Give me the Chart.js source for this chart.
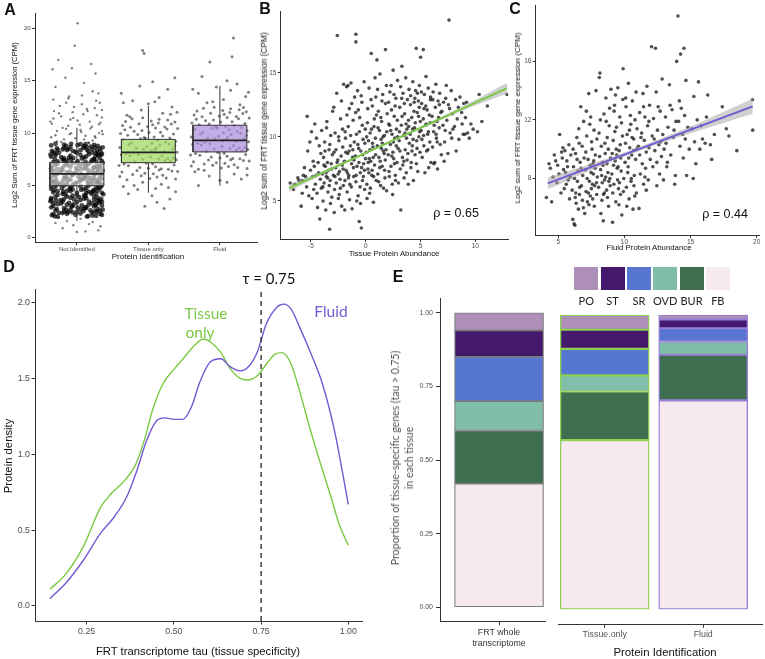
<!DOCTYPE html>
<html>
<head>
<meta charset="utf-8">
<script src="https://cdn.jsdelivr.net/npm/chart.js@4.4.0/dist/chart.umd.min.js"></script>
<style>
body { margin: 0; background: #fff; }
#fig { position: relative; width: 765px; height: 659px; overflow: hidden; font-family: 'Liberation Sans', Arial, sans-serif; }
canvas { position: absolute; left: 0; top: 0; }
.t { position: absolute; white-space: nowrap; line-height: 1; transform: translate(-50%, -50%); color: #111; }
.r { transform: translate(-50%, -50%) rotate(-90deg); }
.lt { font-family: Lato, 'Open Sans', sans-serif; }
.key { position: absolute; top: 267px; width: 24px; height: 23px; }
</style>
</head>
<body>
<div id="fig">
  <canvas id="cA" width="765" height="659"></canvas>
  <canvas id="cB" width="765" height="659"></canvas>
  <canvas id="cC" width="765" height="659"></canvas>
  <canvas id="cD" width="765" height="659"></canvas>
  <canvas id="cE1" width="765" height="659"></canvas>
  <canvas id="cE2" width="765" height="659"></canvas>

  <div class="t" style="left:10px;top:10px;font-weight:bold;font-size:16px">A</div>
  <div class="t" style="left:265px;top:9px;font-weight:bold;font-size:16px">B</div>
  <div class="t" style="left:515px;top:9px;font-weight:bold;font-size:16px">C</div>
  <div class="t" style="left:9px;top:267px;font-weight:bold;font-size:16px">D</div>
  <div class="t" style="left:398px;top:277px;font-weight:bold;font-size:16px">E</div>

  <div class="t r" style="left:15px;top:125px;font-size:7.7px">Log2 Sum of FRT tissue gene expression (CPM)</div>
  <div class="t" style="left:148px;top:257px;font-size:8px">Protein Identification</div>

  <div class="t r" style="left:264px;top:121px;font-size:8.3px">Log2 sum of FRT tissue gene expression (CPM)</div>
  <div class="t" style="left:394px;top:254px;font-size:7.8px">Tissue Protein Abundance</div>
  <div class="t" style="left:456px;top:213px;font-size:12.5px">ρ = 0.65</div>

  <div class="t r" style="left:518px;top:118px;font-size:8px">Log2 sum of FRT tissue gene expression (CPM)</div>
  <div class="t" style="left:649px;top:248px;font-size:7.8px">Fluid Protein Abundance</div>
  <div class="t" style="left:725px;top:214px;font-size:12.5px">ρ = 0.44</div>

  <div class="t r" style="left:9px;top:456px;font-size:11.3px">Protein density</div>
  <div class="t" style="left:198px;top:652px;font-size:11.3px">FRT transcriptome tau (tissue specificity)</div>
  <div class="t lt" style="left:269px;top:278px;font-size:15px">τ = 0.75</div>
  <div class="t lt" style="left:206px;top:314px;font-size:15.5px;color:#7ac943">Tissue</div>
  <div class="t lt" style="left:200px;top:333px;font-size:15.5px;color:#7ac943">only</div>
  <div class="t lt" style="left:331px;top:312px;font-size:15.5px;color:#7657d3">Fluid</div>

  <div class="t r lt" style="left:402px;top:458px;font-size:10.5px;line-height:14px;text-align:center;color:#555">Proportion of tissue-specific genes (tau &gt; 0.75)<br>in each tissue</div>
  <div class="t" style="left:665px;top:653px;font-size:11.4px">Protein Identification</div>
  <div id="legend"></div>
</div>

<script>
// ---- panel A: jittered points [offset from category, log2 expression] ----
const notIdCore = [
  [-0.31,2.05],[0.05,2.31],[0.22,2.12],[-0.12,2.44],[0.33,2.27],[-0.25,2.38],[0.14,2.02],[-0.02,2.19],[0.28,2.48],[-0.35,2.15],
  [0.09,2.55],[-0.18,2.83],[0.36,2.67],[-0.08,2.96],[0.19,2.61],[-0.28,2.74],[0.01,2.88],[0.25,2.52],[-0.15,2.69],[0.12,2.92],
  [-0.33,3.04],[0.31,3.36],[-0.05,3.18],[0.17,3.45],[-0.22,3.27],[0.07,3.09],[0.35,3.41],[-0.11,3.33],[0.26,3.13],[-0.37,3.48],
  [-0.29,3.55],[0.03,3.87],[0.24,3.62],[-0.14,3.93],[0.34,3.71],[-0.23,3.58],[0.12,3.99],[-0.04,3.66],[0.29,3.82],[-0.36,3.77],
  [0.1,4.04],[-0.19,4.38],[0.37,4.15],[-0.09,4.46],[0.2,4.22],[-0.27,4.09],[0.0,4.31],[0.23,4.49],[-0.16,4.12],[0.13,4.27],
  [-0.32,4.53],[0.3,4.86],[-0.06,4.61],[0.16,4.97],[-0.21,4.72],[0.06,4.58],[0.34,4.91],[-0.1,4.67],[0.27,4.79],[-0.36,4.94],
  [-0.3,5.06],[0.04,5.38],[0.21,5.14],[-0.13,5.47],[0.32,5.25],[-0.24,5.11],[0.15,5.42],[-0.03,5.19],[0.29,5.33],[-0.34,5.29],
  [0.08,5.57],[-0.17,5.89],[0.35,5.64],[-0.07,5.96],[0.18,5.71],[-0.29,5.52],[0.02,5.83],[0.24,5.61],[-0.14,5.77],[0.11,5.93],
  [-0.32,6.03],[0.3,6.37],[-0.04,6.16],[0.16,6.44],[-0.23,6.26],[0.06,6.08],[0.36,6.41],[-0.1,6.31],[0.25,6.12],[-0.36,6.48],
  [-0.28,6.56],[0.04,6.88],[0.23,6.63],[-0.13,6.94],[0.33,6.72],[-0.22,6.59],[0.13,6.97],[-0.01,6.67],[0.28,6.83],[-0.35,6.78],
  [0.09,7.04],[-0.18,7.39],[0.36,7.16],[-0.08,7.45],[0.2,7.23],[-0.27,7.08],[0.01,7.32],[0.24,7.48],[-0.15,7.13],[0.12,7.27],
  [-0.31,7.54],[0.3,7.87],[-0.05,7.62],[0.17,7.98],[-0.22,7.71],[0.07,7.57],[0.34,7.92],[-0.11,7.66],[0.26,7.79],[-0.37,7.95],
  [-0.3,8.05],[0.05,8.36],[0.22,8.13],[-0.12,8.47],[0.33,8.26],[-0.25,8.11],[0.14,8.42],[-0.02,8.19],[0.28,8.33],[-0.35,8.29],
  [0.09,8.58],[-0.18,8.9],[0.36,8.64],[-0.08,8.97],[0.19,8.71],[-0.28,8.53],[0.01,8.84],[0.25,8.62],[-0.15,8.78],[0.12,8.94]
];
const notIdCore2 = [
  [0.27,2.1],[-0.06,2.42],[-0.33,2.26],[0.16,2.07],[-0.2,2.35],[0.35,2.18],[0.0,2.47],[-0.14,2.29],[0.21,2.4],[-0.27,2.01],
  [0.1,2.78],[0.32,2.58],[-0.09,2.64],[-0.36,2.9],[0.05,2.72],[0.24,2.99],[-0.18,2.53],[0.13,2.84],[-0.3,2.6],[0.29,2.77],
  [0.27,3.22],[-0.06,3.01],[-0.33,3.3],[0.16,3.12],[-0.2,3.46],[0.35,3.07],[0.0,3.39],[-0.14,3.15],[0.21,3.28],[-0.27,3.2],
  [0.1,3.73],[0.32,3.52],[-0.09,3.81],[-0.36,3.63],[0.05,3.6],[0.24,3.94],[-0.18,3.69],[0.13,3.78],[-0.3,3.89],[0.29,3.57],
  [0.27,4.2],[-0.06,4.02],[-0.33,4.33],[0.16,4.41],[-0.2,4.18],[0.35,4.29],[0.0,4.07],[-0.14,4.48],[0.21,4.36],[-0.27,4.44],
  [0.1,4.62],[0.32,4.7],[-0.09,4.83],[-0.36,4.66],[0.05,4.9],[0.24,4.55],[-0.18,4.98],[0.13,4.74],[-0.3,4.88],[0.29,4.51],
  [0.27,5.22],[-0.06,5.03],[-0.33,5.4],[0.16,5.17],[-0.2,5.36],[0.35,5.08],[0.0,5.29],[-0.14,5.13],[0.21,5.46],[-0.27,5.21],
  [0.1,5.69],[0.32,5.8],[-0.09,5.54],[-0.36,5.74],[0.05,5.62],[0.24,5.97],[-0.18,5.66],[0.13,5.86],[-0.3,5.91],[0.29,5.51],
  [0.27,6.21],[-0.06,6.04],[-0.33,6.33],[0.16,6.15],[-0.2,6.46],[0.35,6.1],[0.0,6.39],[-0.14,6.23],[0.21,6.28],[-0.27,6.14],
  [0.1,6.6],[0.32,6.91],[-0.09,6.77],[-0.36,6.64],[0.05,6.53],[0.24,6.74],[-0.18,6.86],[0.13,6.69],[-0.3,6.97],[0.29,6.58],
  [0.27,7.26],[-0.06,7.11],[-0.33,7.22],[0.16,7.03],[-0.2,7.47],[0.35,7.31],[0.0,7.17],[-0.14,7.36],[0.21,7.42],[-0.27,7.29],
  [0.1,7.68],[0.32,7.59],[-0.09,7.84],[-0.36,7.73],[0.05,7.91],[0.24,7.52],[-0.18,7.61],[0.13,7.77],[-0.3,7.88],[0.29,7.96],
  [0.27,8.08],[-0.06,8.3],[-0.33,8.17],[0.16,8.24],[-0.2,8.44],[0.35,8.02],[0.0,8.12],[-0.14,8.38],[0.21,8.46],[-0.27,8.4],
  [0.1,8.74],[0.32,8.53],[-0.09,8.66],[-0.36,8.82],[0.05,8.95],[0.24,8.88],[-0.18,8.6],[0.13,8.69],[-0.3,8.98],[0.29,8.77]
];
const notIdSparse = [
  [0.12,0.6],[-0.2,0.9],[0.3,0.7],[-0.05,1.2],[0.22,1.5],[-0.3,1.4],[0.05,1.8],[-0.14,1.6],[0.33,1.1],[-0.25,1.9],[0.17,1.3],[0.0,0.55],
  [-0.28,9.2],[0.1,9.4],[0.25,9.7],[-0.1,9.9],[0.35,10.2],[-0.2,10.5],[0.04,10.8],[0.18,11.1],[-0.33,11.4],[0.28,11.7],[-0.06,12.0],
  [0.14,12.3],[-0.24,12.6],[0.32,12.9],[-0.12,13.3],[0.07,13.6],[0.22,14.0],[-0.3,14.4],[0.1,14.8],[-0.16,15.3],[0.26,15.7],[-0.07,16.2],
  [0.2,16.6],[-0.26,17.0],[-0.03,18.35],[0.01,20.5],[-0.34,16.1],[0.3,13.8],[-0.02,9.5],[0.16,9.1],[-0.36,9.6],[0.06,10.1],[-0.15,10.4],
  [0.31,10.0],[-0.25,11.9],[0.21,10.6],[-0.09,11.3],[0.35,11.5],[-0.32,12.1],
  [0.22,9.3],[-0.3,9.8],[0.05,10.3],[-0.12,10.7],[0.33,11.0],[-0.22,11.6],[0.15,12.1],[-0.04,12.5],[0.27,13.1],[-0.35,10.9],
  [0.09,11.8],[-0.18,9.4],[0.36,9.9],[-0.08,10.0],[0.19,10.45],[-0.28,10.2],[0.01,11.2],[0.25,12.4],[-0.15,12.9],[0.12,9.75],
  [-0.33,13.2],[0.31,10.85],[-0.05,11.45],[0.17,9.05],[-0.22,9.15],[0.07,12.75],[0.35,12.2],[-0.11,13.5],[0.26,9.55],[-0.37,11.1]
];
const tissueOnlyPts = [
  [-0.3,5.55],[0.12,5.8],[0.38,5.62],[-0.1,5.93],[0.25,5.7],[-0.4,5.85],[0.02,5.66],[0.2,5.98],
  [-0.22,6.05],[0.33,6.38],[-0.05,6.17],[0.15,6.46],[-0.37,6.27],[0.07,6.11],[0.41,6.33],[-0.16,6.42],
  [0.28,6.55],[-0.28,6.87],[0.0,6.63],[0.36,6.95],[-0.12,6.71],[0.18,6.58],[-0.41,6.9],[0.1,6.79],
  [-0.34,7.04],[0.23,7.37],[-0.03,7.15],[0.39,7.44],[-0.19,7.26],[0.06,7.08],[0.31,7.32],[-0.08,7.49],
  [0.14,7.53],[-0.26,7.86],[0.35,7.62],[-0.14,7.97],[0.03,7.71],[0.27,7.58],[-0.38,7.92],[0.19,7.81],
  [-0.31,8.04],[0.09,8.38],[0.4,8.16],[-0.07,8.45],[0.22,8.23],[-0.21,8.09],[0.04,8.31],[0.34,8.48],
  [-0.17,8.54],[0.16,8.87],[-0.4,8.62],[0.29,8.95],[-0.02,8.7],[0.11,8.57],[-0.27,8.92],[0.37,8.78],
  [0.05,9.04],[-0.35,9.37],[0.24,9.15],[-0.11,9.46],[0.38,9.22],[-0.24,9.08],[0.13,9.31],[-0.04,9.49],
  [0.3,9.53],[-0.15,9.86],[0.08,9.63],[-0.39,9.97],[0.2,9.71],[-0.06,9.58],[0.35,9.91],[-0.29,9.79],
  [0.01,10.05],[0.26,10.38],[-0.2,10.17],[0.41,10.45],[-0.09,10.24],[0.17,10.09],[-0.33,10.33],[0.1,10.48],
  [-0.25,10.55],[0.32,10.88],[-0.01,10.64],[0.14,10.96],[-0.36,10.72],[0.23,10.58],[-0.13,10.9],[0.06,10.8],
  [0.37,11.05],[-0.23,11.38],[0.04,11.16],[-0.08,11.46],[0.27,11.24],[-0.32,11.1],[0.15,11.33],
  [-0.05,3.0],[0.22,2.8],[0.12,3.4],[0.3,3.7],[-0.28,4.2],[0.05,4.0],[-0.15,4.6],[0.38,4.4],[-0.35,4.9],[0.18,5.1],
  [-0.08,5.3],[0.28,4.8],[-0.2,5.0],[0.1,4.7],[-0.3,11.7],[0.2,11.9],[-0.1,12.2],[0.33,12.5],[0.0,12.8],[-0.22,13.1],
  [0.15,13.4],[-0.38,13.8],[0.27,14.2],[-0.12,14.5],[0.06,14.9],[0.37,15.3],[-0.08,17.9],[-0.06,17.6],[-0.26,11.55],
  [0.4,12.0],[-0.35,12.9],[0.09,13.0],[0.31,11.8]
];
const fluidPts = [
  [-0.3,6.55],[0.12,6.8],[0.38,6.62],[-0.1,6.93],[0.25,6.7],[-0.4,6.85],[0.02,6.66],[0.2,6.98],
  [-0.22,7.05],[0.33,7.38],[-0.05,7.17],[0.15,7.46],[-0.37,7.27],[0.07,7.11],[0.41,7.33],[-0.16,7.42],
  [0.28,7.55],[-0.28,7.87],[0.0,7.63],[0.36,7.95],[-0.12,7.71],[0.18,7.58],[-0.41,7.9],[0.1,7.79],
  [-0.34,8.04],[0.23,8.37],[-0.03,8.15],[0.39,8.44],[-0.19,8.26],[0.06,8.08],[0.31,8.32],[-0.08,8.49],
  [0.14,8.53],[-0.26,8.86],[0.35,8.62],[-0.14,8.97],[0.03,8.71],[0.27,8.58],[-0.38,8.92],[0.19,8.81],
  [-0.31,9.04],[0.09,9.38],[0.4,9.16],[-0.07,9.45],[0.22,9.23],[-0.21,9.09],[0.04,9.31],[0.34,9.48],
  [-0.17,9.54],[0.16,9.87],[-0.4,9.62],[0.29,9.95],[-0.02,9.7],[0.11,9.57],[-0.27,9.92],[0.37,9.78],
  [0.05,10.04],[-0.35,10.37],[0.24,10.15],[-0.11,10.46],[0.38,10.22],[-0.24,10.08],[0.13,10.31],[-0.04,10.49],
  [0.3,10.53],[-0.15,10.86],[0.08,10.63],[-0.39,10.97],[0.2,10.71],[-0.06,10.58],[0.35,10.91],[-0.29,10.79],
  [0.01,11.05],[0.26,11.38],[-0.2,11.17],[0.41,11.45],[-0.09,11.24],[0.17,11.09],[-0.33,11.33],[0.1,11.48],
  [-0.25,11.55],[0.32,11.88],[-0.01,11.64],[0.14,11.96],[-0.36,11.72],[0.23,11.58],[-0.13,11.9],[0.06,11.8],
  [0.37,12.05],[-0.23,12.38],[0.04,12.16],[-0.08,12.46],[0.27,12.24],[-0.32,12.1],[0.15,12.33],[0.33,12.44],
  [-0.3,5.0],[0.1,5.3],[0.3,5.6],[-0.15,5.9],[0.2,6.1],[-0.35,6.3],[0.0,5.5],[0.38,6.0],[-0.22,6.45],
  [0.28,12.7],[-0.18,12.9],[0.05,13.2],[0.36,13.5],[-0.3,13.8],[0.15,14.1],[-0.05,14.4],[0.24,14.7],[-0.38,14.2],
  [0.4,13.9],[-0.1,13.0],[0.1,15.0],[-0.14,16.8],[0.17,17.3],[0.19,19.1],[-0.25,15.4]
];
const boxCats = ['Not Identified', 'Tissue only', 'Fluid'];
const boxLower = [1.6, 4.3, 4.97];
const boxQ1 = [4.97, 7.17, 8.2];
const boxMed = [6.1, 8.16, 9.3];
const boxQ3 = [7.2, 9.4, 10.75];
const boxUpper = [10.5, 12.6, 14.5];
const aTicksY = [0, 5, 10, 15, 20];

// ---- panel B: tissue protein abundance vs expression ----
const tissuePts = [
  [-6.9,6.4],[-6.5,6.3],[-6.2,6.8],[-6.6,5.9],[-6.1,6.6],
  [-5.9,4.6],[-5.8,6.6],[-5.6,7.6],[-5.4,6.1],[-5.3,8.9],[-5.2,5.4],[-5.7,7.0],[-5.1,9.6],[-5.5,6.9],[-5.05,7.4],[-5.35,11.6],[-5.8,5.6],
  [-4.9,5.2],[-4.8,8.1],[-4.6,6.3],[-4.5,9.9],[-4.4,4.5],[-4.3,7.2],[-4.2,3.6],[-4.1,8.7],[-4.05,6.0],[-4.95,10.4],[-4.7,7.7],[-4.45,5.6],
  [-4.25,9.3],[-4.15,6.7],[-4.85,6.9],[-4.35,8.0],[-4.65,11.0],[-4.55,7.0],[-4.75,5.9],[-4.02,10.5],
  [-3.95,7.1],[-3.9,5.0],[-3.85,8.4],[-3.8,6.4],[-3.75,9.6],[-3.7,7.7],[-3.65,4.3],[-3.6,6.9],[-3.55,11.2],[-3.5,8.0],[-3.45,5.7],[-3.4,7.4],
  [-3.35,9.0],[-3.3,2.8],[-3.25,6.6],[-3.2,10.1],[-3.15,7.9],[-3.1,5.3],[-3.05,8.6],[-3.02,12.0],[-3.92,6.1],[-3.62,7.2],[-3.33,6.2],
  [-3.12,7.5],[-3.72,8.9],[-3.48,6.8],[-3.22,4.8],[-3.82,7.8],[-3.58,10.7],[-3.28,9.4],
  [-2.95,7.0],[-2.9,8.8],[-2.85,5.9],[-2.8,10.3],[-2.75,7.6],[-2.7,6.4],[-2.65,13.4],[-2.6,17.9],[-2.55,8.2],[-2.5,5.2],[-2.45,9.7],
  [-2.4,7.3],[-2.35,6.7],[-2.3,11.4],[-2.25,8.5],[-2.2,4.6],[-2.15,7.8],[-2.1,9.2],[-2.05,6.2],[-2.02,14.1],[-2.92,12.3],[-2.72,9.0],
  [-2.52,7.1],[-2.32,6.0],[-2.12,10.6],[-2.82,6.9],[-2.62,8.0],[-2.42,5.5],[-2.22,12.8],[-2.07,7.5],[-2.88,4.1],[-2.48,10.0],
  [-1.95,8.1],[-1.9,6.6],[-1.85,9.9],[-1.8,7.4],[-1.75,13.9],[-1.7,5.7],[-1.65,8.7],[-1.6,10.8],[-1.55,7.0],[-1.5,12.2],[-1.45,6.3],
  [-1.4,9.3],[-1.35,14.2],[-1.3,7.9],[-1.25,4.4],[-1.2,8.4],[-1.15,11.3],[-1.1,6.9],[-1.05,9.6],[-1.02,13.1],[-1.92,4.3],[-1.72,11.7],
  [-1.52,8.9],[-1.32,6.1],[-1.12,7.6],[-1.88,10.4],[-1.68,7.2],[-1.48,5.1],[-1.28,12.6],[-1.08,8.2],[-1.82,8.8],[-1.58,6.8],[-1.38,10.1],
  [-1.18,9.0],[-0.9,18.0],[-0.9,17.4],[-1.62,14.0],
  [-0.95,8.5],[-0.9,6.5],[-0.85,10.2],[-0.8,7.7],[-0.75,13.6],[-0.7,5.4],[-0.65,9.1],[-0.6,3.4],[-0.55,11.5],[-0.5,7.2],[-0.45,8.9],
  [-0.4,2.9],[-0.35,12.7],[-0.3,6.6],[-0.25,9.8],[-0.2,7.9],[-0.15,14.3],[-0.1,5.9],[-0.05,10.6],[-0.02,8.3],[-0.92,11.9],[-0.72,9.4],
  [-0.52,6.1],[-0.32,10.9],[-0.12,7.4],[-0.88,7.0],[-0.68,12.1],[-0.48,4.8],[-0.28,8.6],[-0.08,9.5],[-0.82,5.0],[-0.62,8.0],[-0.42,13.2],
  [-0.22,6.9],[-0.58,10.4],[-0.38,7.6],
  [0.05,8.8],[0.1,6.3],[0.15,11.1],[0.2,7.5],[0.25,9.7],[0.3,13.8],[0.35,5.6],[0.4,10.3],[0.45,8.1],[0.5,16.5],[0.55,7.0],[0.6,12.4],
  [0.65,9.2],[0.7,4.9],[0.75,10.8],[0.8,7.8],[0.85,14.6],[0.9,8.6],[0.95,6.6],[0.98,11.7],[0.08,10.0],[0.28,7.2],[0.48,12.9],[0.68,8.4],
  [0.88,9.9],[0.12,5.2],[0.32,8.3],[0.52,10.6],[0.72,6.9],[0.92,13.1],[0.18,12.2],[0.38,9.0],[0.58,7.4],[0.78,11.4],[0.22,8.0],[0.62,9.5],[0.42,6.0],
  [1.05,9.3],[1.1,7.1],[1.15,12.0],[1.2,8.4],[1.25,10.5],[1.3,14.9],[1.35,6.2],[1.4,9.8],[1.45,11.2],[1.5,7.7],[1.55,13.3],[1.6,8.9],
  [1.8,16.8],[1.7,10.1],[1.75,6.8],[1.8,12.6],[1.85,9.0],[1.9,5.8],[1.95,11.8],[1.02,16.0],[1.12,10.7],[1.32,8.1],[1.52,9.5],[1.72,7.4],
  [1.92,10.4],[1.08,13.7],[1.28,7.6],[1.48,12.8],[1.68,8.7],[1.88,14.0],[1.18,6.5],[1.38,11.5],[1.58,10.0],[1.78,8.2],[1.42,9.1],[1.62,6.0],
  [2.05,8.6],[2.1,11.0],[2.15,6.9],[2.2,13.5],[2.25,9.4],[2.3,7.7],[2.35,12.1],[2.4,10.2],[2.45,5.5],[2.5,15.2],[2.55,8.3],[2.6,11.6],
  [2.65,9.9],[2.7,7.0],[2.75,13.0],[2.8,10.6],[2.85,8.0],[2.9,14.4],[2.95,9.1],[2.98,6.4],[2.08,12.7],[2.28,10.5],[2.48,8.8],[2.68,12.4],
  [2.88,11.3],[2.12,7.3],[2.32,14.0],[2.52,9.6],[2.72,6.6],[2.92,10.0],[2.18,10.9],[2.38,8.5],[2.58,13.3],[2.78,9.3],[2.42,6.3],[2.62,7.9],
  [3.05,9.7],[3.1,12.3],[3.15,7.5],[3.2,4.3],[3.25,10.9],[3.3,15.5],[3.35,8.4],[3.4,13.4],[3.45,10.1],[3.5,6.8],[3.55,11.8],[3.6,9.0],
  [3.65,14.6],[3.7,7.2],[3.75,10.6],[3.8,12.9],[3.85,8.7],[3.9,11.3],[3.95,13.7],[3.98,9.5],[3.08,10.4],[3.28,13.0],[3.48,8.1],[3.68,11.0],
  [3.88,6.3],[3.12,8.9],[3.32,11.6],[3.52,12.6],[3.72,9.9],[3.92,10.8],[3.18,13.9],[3.38,7.8],[3.58,10.3],[3.78,8.2],
  [4.05,10.2],[4.1,13.2],[4.15,8.0],[4.2,11.5],[4.25,9.3],[4.3,14.3],[4.35,6.6],[4.4,12.0],[4.45,10.7],[4.5,8.6],[4.55,13.6],[4.6,16.9],
  [4.65,9.7],[4.7,11.9],[4.75,7.3],[4.8,12.8],[4.85,10.0],[4.9,14.0],[4.95,8.8],[4.98,11.2],[4.08,12.5],[4.28,10.6],[4.48,13.0],[4.68,9.1],
  [4.88,12.3],[4.12,7.6],[4.32,9.8],[4.52,11.1],[4.72,13.4],[4.92,10.4],[4.22,8.9],[4.42,12.7],[4.62,7.9],[4.82,11.6],
  [5.05,10.5],[5.1,12.6],[5.15,8.4],[5.25,16.8],[5.25,11.4],[5.3,9.3],[5.35,13.3],[5.4,7.2],[5.45,10.9],[5.5,14.7],[5.55,8.9],[5.6,12.1],
  [5.65,10.2],[5.7,13.8],[5.75,7.6],[5.8,11.7],[5.85,9.6],[5.9,12.9],[5.95,8.0],[5.0,16.2],[5.08,13.5],[5.28,10.1],[5.48,12.4],[5.68,9.0],
  [5.88,11.1],[5.12,9.8],[5.32,12.2],[5.52,11.0],[5.72,10.4],[5.92,13.1],
  [6.05,11.6],[6.1,9.2],[6.15,13.5],[6.2,10.4],[6.3,8.0],[6.35,12.3],[6.4,14.1],[6.45,9.9],[6.5,11.2],[6.55,7.5],[6.6,12.8],[6.7,10.7],
  [6.75,13.4],[6.8,9.4],[6.85,11.9],[6.9,8.6],[6.95,12.0],[6.25,10.9],[6.65,11.5],[6.12,12.9],[6.42,10.2],[6.72,12.5],[6.22,7.9],[6.52,9.6],
  [7.05,10.9],[7.1,12.7],[7.2,9.6],[7.3,13.0],[7.4,11.3],[7.5,8.7],[7.6,19.1],[7.65,12.2],[7.7,10.3],[7.8,13.6],[7.85,9.9],[7.9,11.8],
  [7.25,10.5],[7.55,12.5],[7.95,10.6],[7.35,14.0],[7.15,8.1],
  [8.1,10.8],[8.2,12.9],[8.35,11.4],[8.5,9.8],[8.6,13.1],[8.75,11.9],[8.9,10.2],[8.45,12.3],[8.8,11.0],[8.25,8.9],[8.95,12.6],
  [9.1,11.5],[9.3,10.3],[9.45,9.9],[9.2,12.7],[9.6,11.0],[9.8,10.6],[9.05,10.2],
  [10.35,13.3],[10.6,11.2],[11.1,12.4],[12.9,13.3],[10.2,10.4]
];
const tissueFitX = [-7.0, 12.9];
const tissueFitY = [6.0, 13.8];
const tissueBandX = [-7, -3, 1, 5, 9, 12.9];
const tissueBandLo = [5.73, 7.45, 9.05, 10.6, 12.1, 13.38];
const tissueBandHi = [6.27, 7.69, 9.23, 10.8, 12.44, 14.22];
const bTicksX = [-5, 0, 5, 10];
const bTicksY = [5, 10, 15];

// ---- panel C: fluid protein abundance vs expression ----
const fluidPtsC = [
  [4.1,6.7],[4.5,6.4],[4.4,8.7],[4.7,9.6],[4.8,9.2],[4.6,8.1],[4.9,7.7],[4.3,9.0],[4.95,8.9],
  [5.1,11.0],[5.05,8.3],[5.2,7.0],[5.3,9.4],[5.4,8.6],[5.5,9.9],[5.6,7.6],[5.7,8.8],[5.8,10.3],[5.9,8.1],[5.25,9.8],[5.45,7.3],
  [5.65,9.2],[5.85,6.6],[5.35,10.1],[5.75,7.9],[5.55,8.4],[5.95,9.6],
  [6.05,7.2],[6.1,5.2],[6.2,4.9],[6.25,4.8],[6.15,8.8],[6.3,9.7],[6.35,6.3],[6.4,10.8],[6.45,7.8],[6.5,8.5],[6.55,11.4],[6.6,6.9],
  [6.65,9.1],[6.7,12.9],[6.75,7.5],[6.8,10.2],[6.85,8.2],[6.9,6.0],[6.95,9.4],[6.12,10.0],[6.32,7.0],[6.52,5.9],[6.72,8.7],[6.92,11.9],
  [6.22,8.0],[6.42,9.3],[6.62,7.4],[6.82,6.5],[6.28,6.7],[6.58,10.4],
  [7.0,5.6],[7.05,8.6],[7.1,7.1],[7.15,10.9],[7.2,6.4],[7.25,9.3],[7.3,13.8],[7.35,7.8],[7.4,8.9],[7.45,12.2],[7.5,7.3],[7.55,10.0],
  [7.6,6.6],[7.65,8.3],[7.7,11.3],[7.75,7.5],[7.8,9.6],[7.85,14.0],[7.9,6.9],[7.95,8.1],[7.08,9.8],[7.28,7.0],[7.48,8.4],[7.68,9.2],
  [7.88,7.7],[7.12,12.6],[7.32,6.2],[7.52,10.5],[7.72,6.1],[7.92,10.7],[7.18,8.0],[7.38,11.7],[7.58,7.6],[7.78,8.7],[7.42,6.8],[7.62,9.0],
  [8.05,7.4],[8.1,14.9],[8.15,15.2],[8.2,8.6],[8.25,10.2],[8.3,6.5],[8.35,9.1],[8.4,5.1],[8.45,12.4],[8.5,7.9],[8.55,9.7],[8.6,13.5],
  [8.65,7.2],[8.7,10.8],[8.75,8.4],[8.8,6.1],[8.85,11.6],[8.9,8.0],[8.95,9.4],[8.98,14.1],[8.08,11.1],[8.28,8.2],[8.48,7.0],[8.68,9.0],
  [8.88,12.8],[8.12,9.5],[8.32,7.7],[8.52,10.4],[8.72,6.7],[8.92,7.5],[8.18,12.0],[8.38,8.9],[8.58,8.1],[8.78,10.0],[8.42,6.9],[8.62,11.9],
  [8.22,5.6],[8.82,7.8],
  [9.05,8.3],[9.1,5.0],[9.15,10.6],[9.2,7.6],[9.25,13.0],[9.3,9.2],[9.35,6.4],[9.4,11.5],[9.45,8.7],[9.5,14.2],[9.55,7.3],[9.6,9.9],
  [9.65,12.2],[9.7,6.9],[9.75,8.5],[9.8,5.5],[9.85,10.9],[9.9,15.5],[9.95,8.0],[9.08,9.7],[9.28,11.2],[9.48,7.9],[9.68,10.3],[9.88,13.4],
  [9.12,7.0],[9.32,13.7],[9.52,8.8],[9.72,9.4],[9.92,7.1],[9.18,8.9],[9.38,10.0],[9.58,6.2],[9.78,11.8],[9.22,12.6],[9.62,7.7],[9.42,9.6],
  [10.05,9.1],[10.1,13.5],[10.15,7.4],[10.2,11.0],[10.25,8.4],[10.3,14.5],[10.35,6.6],[10.4,10.1],[10.45,12.3],[10.5,7.8],[10.55,9.6],
  [10.6,13.3],[10.65,5.9],[10.7,10.7],[10.75,8.2],[10.8,12.0],[10.85,9.3],[10.9,7.0],[10.95,11.4],[10.08,10.4],[10.28,8.8],[10.48,11.7],
  [10.68,9.9],[10.88,13.9],[10.12,12.9],[10.32,9.4],[10.52,8.0],[10.72,7.5],[10.92,10.0],[10.18,6.1],[10.38,11.3],[10.58,10.8],[10.78,6.8],
  [11.05,10.2],[11.1,5.95],[11.15,12.5],[11.2,8.3],[11.3,11.1],[11.35,9.0],[11.4,13.8],[11.45,7.6],[11.5,10.6],[11.55,12.2],[11.6,8.7],
  [11.65,9.8],[11.7,14.3],[11.75,11.6],[11.8,7.9],[11.85,10.1],[11.9,13.0],[11.95,9.3],[11.25,10.8],[11.45,12.9],[11.65,7.2],[11.85,11.9],
  [11.15,9.6],[11.55,8.1],
  [12.05,17.0],[12.35,16.9],[12.1,10.9],[12.15,8.8],[12.2,12.1],[12.3,9.9],[12.4,13.9],[12.45,7.5],[12.5,11.3],[12.6,10.3],[12.65,8.3],
  [12.7,12.6],[12.8,9.5],[12.85,14.8],[12.9,11.0],[12.95,7.9],[12.25,10.7],[12.55,12.9],[12.75,10.5],[12.45,9.1],
  [13.0,10.0],[13.1,12.2],[13.2,8.8],[13.3,11.5],[13.4,14.4],[13.5,9.6],[13.6,12.7],[13.7,10.8],[13.8,7.6],[13.9,11.9],[13.95,16.0],
  [13.15,10.4],[13.45,13.0],[13.75,11.3],[13.25,9.1],[13.85,8.2],
  [14.05,19.1],[14.25,16.5],[14.5,16.9],[14.1,11.9],[14.2,10.2],[14.3,12.8],[14.4,11.0],[14.45,9.4],[14.55,12.3],[14.6,10.7],[14.7,8.2],
  [14.8,11.5],[14.9,10.0],[14.15,13.3],[14.65,14.7],
  [15.1,11.4],[15.2,8.0],[15.3,10.5],[15.5,12.0],[15.6,14.6],[15.7,10.0],[15.8,11.6],[15.4,9.0],[15.9,10.7],[15.25,13.6],
  [16.1,10.4],[16.3,13.7],[16.5,10.3],[16.6,9.3],[16.8,11.0],[16.2,12.2],
  [17.4,12.9],[17.7,11.4],[17.9,10.9],[18.5,9.9],[19.7,11.3],[19.68,13.38]
];
const fluidFitX = [4.2, 19.7];
const fluidFitY = [7.66, 12.93];
const fluidBandX = [4.2, 8, 11, 14, 17, 19.7];
const fluidBandLo = [7.26, 8.75, 9.82, 10.79, 11.66, 12.43];
const fluidBandHi = [8.06, 9.15, 10.12, 11.19, 12.36, 13.45];
const cTicksX = [5, 10, 15, 20];
const cTicksY = [8, 12, 16];

// ---- panel D: protein density along tau ----
const tauTissue = [0.145, 0.19, 0.24, 0.29, 0.32, 0.36, 0.39, 0.415, 0.44, 0.47, 0.50, 0.53, 0.56, 0.585, 0.605, 0.635, 0.66, 0.69, 0.71, 0.74, 0.77, 0.79, 0.81, 0.835, 0.86, 0.89, 0.92, 0.95, 0.975, 1.0];
const densTissue = [0.11, 0.21, 0.39, 0.65, 0.74, 0.83, 0.93, 1.09, 1.30, 1.47, 1.56, 1.64, 1.72, 1.76, 1.74, 1.67, 1.57, 1.50, 1.49, 1.52, 1.61, 1.66, 1.67, 1.60, 1.42, 1.17, 0.94, 0.72, 0.53, 0.40];
const tauFluid = [0.145, 0.19, 0.24, 0.29, 0.33, 0.365, 0.395, 0.42, 0.45, 0.475, 0.50, 0.525, 0.55, 0.575, 0.605, 0.635, 0.66, 0.69, 0.715, 0.74, 0.765, 0.795, 0.815, 0.835, 0.86, 0.89, 0.925, 0.96, 1.0];
const densFluid = [0.05, 0.15, 0.30, 0.48, 0.59, 0.72, 0.90, 1.08, 1.22, 1.24, 1.23, 1.23, 1.31, 1.48, 1.61, 1.63, 1.58, 1.55, 1.58, 1.68, 1.86, 1.97, 1.99, 1.96, 1.84, 1.68, 1.47, 1.16, 0.67];
const tauCut = 0.75;
const dTicksX = [0.25, 0.5, 0.75, 1.0];
const dTicksY = [0, 0.5, 1.0, 1.5, 2.0];

// ---- panel E: share of tissue-specific genes ----
const tissueKeys = ['PO', 'ST', 'SR', 'OVD', 'BUR', 'FB'];
const wholeProp = [0.06, 0.09, 0.15, 0.10, 0.18, 0.42];
const tissueOnlyProp = [0.05, 0.065, 0.09, 0.055, 0.165, 0.575];
const fluidProp = [0.015, 0.03, 0.045, 0.045, 0.155, 0.71];
const eGroups = ['Tissue.only', 'Fluid'];
const eTicksY = [0, 0.25, 0.5, 0.75, 1.0];

// ---- styling ----
const W = 765, H = 659, YW = 30, XH = 28;
const SANS = "'Liberation Sans', Arial, sans-serif";
const AXIS = '#333', TICK = '#4d4d4d';
const GREEN = '#7ac943', PURPLE = '#7657d3';
const keyColors = ['#ad8fb7', '#43186d', '#5676d2', '#80bea9', '#3d6e50', '#f6e9f0'];
const BOX_HALF = 0.377;

function pad(a, yw) {
  return { left: a.l - yw, top: a.t, right: W - a.r, bottom: H - a.b - XH };
}

function axis(o) {
  const shown = o.display !== false;
  return {
    type: 'linear', display: shown, min: o.min, max: o.max, offset: false,
    stacked: !!o.stacked,
    afterBuildTicks: s => { s.ticks = (o.ticks || []).map(v => ({ value: v })); },
    afterFit: s => { if (!shown) return; if (o.x) s.height = XH; else s.width = YW; },
    grid: { display: true, drawOnChartArea: false, drawTicks: true, tickLength: o.tl || 3, color: AXIS, offset: false },
    border: { display: true, color: AXIS, width: 1 },
    ticks: {
      callback: o.fmt || (v => v), autoSkip: false, maxRotation: 0, minRotation: 0,
      padding: o.pad || 0, color: o.color || TICK,
      font: { family: SANS, size: o.size, lineHeight: 1.3 }
    }
  };
}

function make(id, type, datasets, area, scales) {
  return new Chart(document.getElementById(id), {
    type: type,
    data: { datasets: datasets },
    options: {
      responsive: false, animation: false, events: [],
      layout: { padding: pad(area, scales.y.display === false ? 0 : YW) },
      plugins: { legend: { display: false }, tooltip: { enabled: false } },
      scales: scales
    }
  });
}

const xy = (xs, ys) => xs.map((x, i) => ({ x: x, y: ys[i] }));
const pts = (arr, c) => arr.map(p => ({ x: c + p[0], y: p[1] }));
const lineDs = (data, color, w, order, extra) => Object.assign({
  data: data, showLine: true, borderColor: color, borderWidth: w, pointRadius: 0, fill: false, order: order
}, extra || {});

// ---- A ----
const aSets = [
  { data: pts(notIdCore, 1), pointRadius: 2.4, backgroundColor: 'rgba(0,0,0,0.7)', pointBorderWidth: 0, order: 4 },
  { data: pts(notIdCore2, 1), pointRadius: 2.4, backgroundColor: 'rgba(0,0,0,0.7)', pointBorderWidth: 0, order: 4 },
  { data: pts(notIdSparse, 1), pointRadius: 1.2, backgroundColor: 'rgba(0,0,0,0.5)', pointBorderWidth: 0, order: 4 },
  { data: pts(tissueOnlyPts, 2), pointRadius: 1.5, backgroundColor: 'rgba(0,0,0,0.5)', pointBorderWidth: 0, order: 4 },
  { data: pts(fluidPts, 3), pointRadius: 1.5, backgroundColor: 'rgba(0,0,0,0.5)', pointBorderWidth: 0, order: 4 }
];
const boxFills = ['rgba(255,255,255,0.55)', 'rgba(160,215,95,0.72)', 'rgba(172,142,222,0.72)'];
boxCats.forEach((name, i) => {
  const c = i + 1;
  aSets.push(lineDs([{ x: c, y: boxLower[i] }, { x: c, y: boxQ1[i] }], '#333', 1, 3));
  aSets.push(lineDs([{ x: c, y: boxQ3[i] }, { x: c, y: boxUpper[i] }], '#333', 1, 3));
  aSets.push(lineDs([
    { x: c - BOX_HALF, y: boxQ1[i] }, { x: c + BOX_HALF, y: boxQ1[i] },
    { x: c + BOX_HALF, y: boxQ3[i] }, { x: c - BOX_HALF, y: boxQ3[i] },
    { x: c - BOX_HALF, y: boxQ1[i] }
  ], '#333', 1, 2, { fill: 'shape', backgroundColor: boxFills[i] }));
  aSets.push(lineDs([{ x: c - BOX_HALF, y: boxMed[i] }, { x: c + BOX_HALF, y: boxMed[i] }], '#222', 1.6, 1));
});
make('cA', 'scatter', aSets, { l: 35, t: 13.3, r: 257, b: 242.3 }, {
  x: axis({ x: true, min: 0.414, max: 3.519, ticks: [1, 2, 3], fmt: v => boxCats[v - 1], size: 6.1, tl: 3, pad: 0 }),
  y: axis({ min: -0.44, max: 21.45, ticks: aTicksY, size: 6.1, tl: 3, pad: 1.3 })
});

// ---- B ----
make('cB', 'scatter', [
  { data: tissuePts.map(p => ({ x: p[0], y: p[1] })), pointRadius: 1.8, backgroundColor: 'rgba(35,35,35,0.8)', pointBorderWidth: 0, order: 3 },
  lineDs(xy(tissueBandX, tissueBandHi), 'rgba(0,0,0,0)', 1, 2, { fill: '+1', backgroundColor: 'rgba(170,170,170,0.55)', tension: 0.4 }),
  lineDs(xy(tissueBandX, tissueBandLo), 'rgba(0,0,0,0)', 1, 2, { tension: 0.4 }),
  lineDs(xy(tissueFitX, tissueFitY), GREEN, 1.8, 0)
], { l: 280.7, t: 11, r: 508.3, b: 239 }, {
  x: axis({ x: true, min: -7.766, max: 13.013, ticks: bTicksX, size: 6.5, tl: 3, pad: 0 }),
  y: axis({ min: 2.038, max: 19.81, ticks: bTicksY, size: 6.5, tl: 3, pad: 1.3 })
});

// ---- C ----
make('cC', 'scatter', [
  { data: fluidPtsC.map(p => ({ x: p[0], y: p[1] })), pointRadius: 1.8, backgroundColor: 'rgba(35,35,35,0.8)', pointBorderWidth: 0, order: 3 },
  lineDs(xy(fluidBandX, fluidBandHi), 'rgba(0,0,0,0)', 1, 2, { fill: '+1', backgroundColor: 'rgba(170,170,170,0.55)', tension: 0.4 }),
  lineDs(xy(fluidBandX, fluidBandLo), 'rgba(0,0,0,0)', 1, 2, { tension: 0.4 }),
  lineDs(xy(fluidFitX, fluidFitY), PURPLE, 1.8, 0)
], { l: 535.7, t: 5, r: 759.3, b: 235.7 }, {
  x: axis({ x: true, min: 3.291, max: 20.197, ticks: cTicksX, size: 6.5, tl: 2.5, pad: 0 }),
  y: axis({ min: 4.085, max: 19.82, ticks: cTicksY, size: 6.5, tl: 3, pad: 1.3 })
});

// ---- D ----
const dMin = -0.0989, dMax = 2.0897;
make('cD', 'scatter', [
  lineDs(xy(tauFluid, densFluid), PURPLE, 1.4, 1, { cubicInterpolationMode: 'monotone' }),
  lineDs(xy(tauTissue, densTissue), GREEN, 1.4, 1, { cubicInterpolationMode: 'monotone' }),
  lineDs([{ x: tauCut, y: dMin }, { x: tauCut, y: dMax }], '#222', 1.3, 0, { borderDash: [5, 4] })
], { l: 35, t: 289, r: 362.3, b: 621 }, {
  x: axis({ x: true, min: 0.102, max: 1.040, ticks: dTicksX, fmt: v => v.toFixed(2), size: 8.8, tl: 3.5, pad: 1.7 }),
  y: axis({ min: dMin, max: dMax, ticks: dTicksY, fmt: v => v.toFixed(1), size: 8.8, tl: 3.5, pad: 1.5 })
});

// ---- E ---- (stack from bottom: FB first)
const order = tissueKeys.map((k, i) => i).reverse();
make('cE1', 'bar', order.map(i => ({
  label: tissueKeys[i], data: [{ x: 1, y: wholeProp[i] }],
  backgroundColor: keyColors[i], borderColor: '#7d7d7d', borderWidth: 1.2, borderSkipped: false, barThickness: 89
})), { l: 440, t: 298.3, r: 545, b: 621.7 }, {
  x: axis({ x: true, stacked: true, min: 0.40, max: 1.467, ticks: [1], fmt: () => ['FRT whole', 'transcriptome'], size: 8.8, tl: 3.5, pad: 1.5, color: '#333' }),
  y: axis({ stacked: true, min: -0.0489, max: 1.0489, ticks: eTicksY, fmt: v => v.toFixed(2), size: 7, tl: 4, pad: 3 })
});
make('cE2', 'bar', order.map(i => ({
  label: tissueKeys[i], data: [{ x: 1, y: tissueOnlyProp[i] }, { x: 2, y: fluidProp[i] }],
  backgroundColor: keyColors[i], borderColor: ['#8fd14f', '#9a7fd8'], borderWidth: 1.4, borderSkipped: false, barThickness: 89
})), { l: 558.3, t: 300.3, r: 762.3, b: 624.3 }, {
  x: axis({ x: true, stacked: true, min: 0.529, max: 2.6, ticks: [1, 2], fmt: v => eGroups[v - 1], size: 8.8, tl: 3.5, pad: 1, color: '#555' }),
  y: axis({ display: false, stacked: true, min: -0.051, max: 1.05, ticks: [] })
});

// legend keys for E
const lg = document.getElementById('legend');
tissueKeys.forEach((k, i) => {
  const x = 574.3 + i * 26.3;
  const sq = document.createElement('div');
  sq.className = 'key';
  sq.style.left = x + 'px';
  sq.style.background = keyColors[i];
  lg.appendChild(sq);
  const t = document.createElement('div');
  t.className = 't lt';
  t.style.left = (x + 12) + 'px';
  t.style.top = '300px';
  t.style.fontSize = '11px';
  t.style.color = '#222';
  t.textContent = k;
  lg.appendChild(t);
});
</script>
</body>
</html>
